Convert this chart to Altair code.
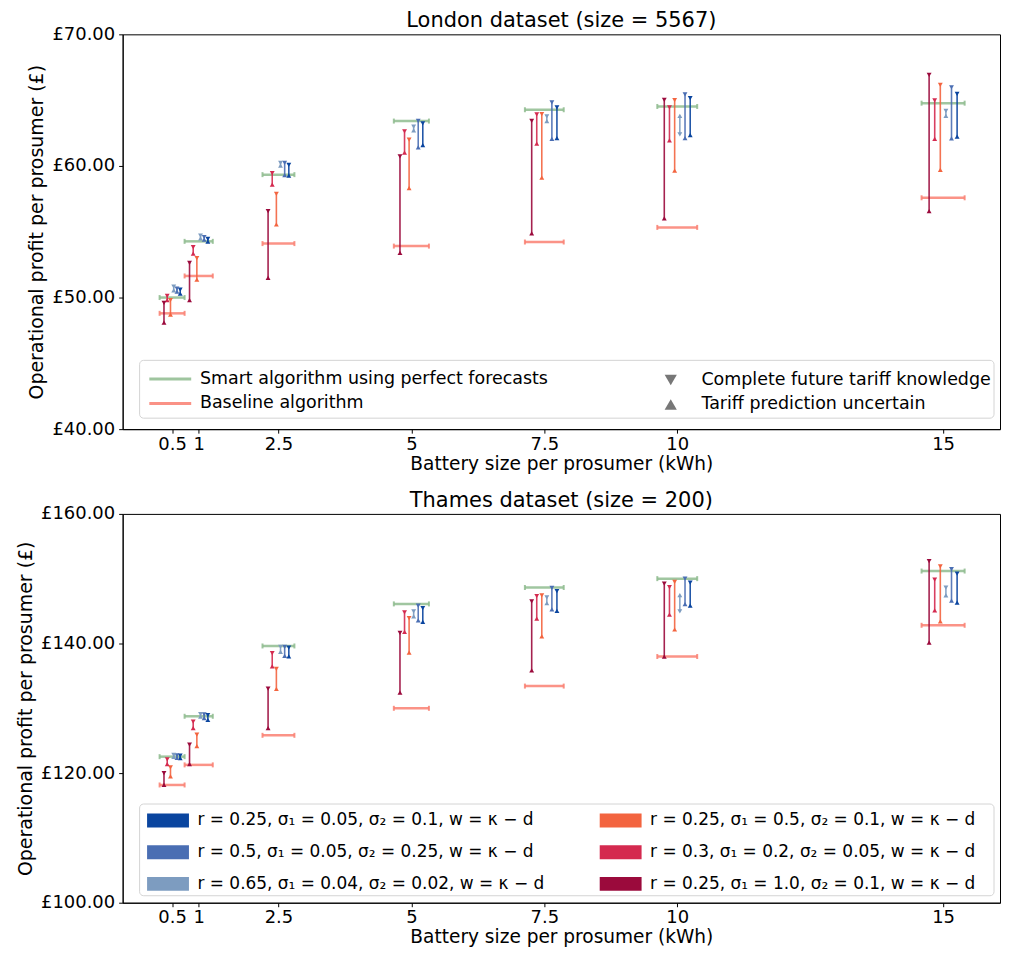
import altair as alt
import pandas as pd

# ---------------- data ----------------
batteries = [0.5, 1, 2.5, 5, 7.5, 10, 15]
tick_labels = ["0.5", "1", "2.5", "5", "7.5", "10", "15"]
half_width = [0.235, 0.265, 0.3, 0.33, 0.365, 0.375, 0.405]

series_names = ["Smart algorithm using perfect forecasts", "Baseline algorithm"]
series_colors = ["#8fbc8f", "#fa8072"]
marker_names = ["Complete future tariff knowledge", "Tariff prediction uncertain"]

# variants, left-to-right order within each battery group
variants = [
    "r = 0.25, σ₁ = 1.0, σ₂ = 0.1, w = κ − d",
    "r = 0.3, σ₁ = 0.2, σ₂ = 0.05, w = κ − d",
    "r = 0.25, σ₁ = 0.5, σ₂ = 0.1, w = κ − d",
    "r = 0.65, σ₁ = 0.04, σ₂ = 0.02, w = κ − d",
    "r = 0.5, σ₁ = 0.05, σ₂ = 0.25, w = κ − d",
    "r = 0.25, σ₁ = 0.05, σ₂ = 0.1, w = κ − d",
]
variant_colors = ["#9b0a3c", "#d42a4f", "#f3643f", "#7d9cc0", "#4a6eb3", "#0a459f"]

# London dataset
london_perfect = [50.0, 54.27, 59.34, 63.41, 64.27, 64.52, 64.77]
london_baseline = [48.8, 51.64, 54.1, 53.91, 54.22, 55.33, 57.58]
london_complete = [
    [49.6, 52.63, 56.57, 60.73, 63.43, 65.02, 66.92],
    [50.13, 53.84, 59.45, 62.63, 63.92, 64.45, 64.98],
    [49.8, 53.0, 57.88, 62.0, 63.94, 65.0, 66.16],
    [50.83, 54.7, 60.23, 62.98, 63.77, 62.4, 64.19],
    [50.68, 54.6, 60.23, 63.43, 64.83, 65.43, 65.98],
    [50.6, 54.45, 60.08, 63.23, 64.45, 65.15, 65.48],
]
london_uncertain = [
    [48.1, 49.8, 51.5, 53.39, 54.87, 56.01, 56.57],
    [49.8, 53.33, 58.58, 61.01, 61.69, 61.95, 62.05],
    [48.7, 51.36, 55.55, 58.31, 59.11, 59.64, 59.7],
    [50.55, 54.5, 60.02, 62.7, 63.41, 63.81, 63.81],
    [50.45, 54.4, 59.3, 61.41, 62.05, 62.12, 62.1],
    [50.3, 54.25, 59.27, 61.59, 62.12, 62.35, 62.22],
]

# Thames dataset
thames_perfect = [122.54, 128.77, 139.62, 146.11, 148.64, 150.01, 151.18]
thames_baseline = [118.17, 121.27, 125.83, 130.0, 133.43, 137.99, 142.81]
thames_complete = [
    [120.0, 124.41, 133.03, 141.64, 146.51, 149.25, 152.7],
    [122.13, 127.96, 138.51, 144.79, 147.33, 148.7, 149.86],
    [120.87, 125.93, 136.07, 143.93, 147.43, 149.51, 151.89],
    [122.8, 129.1, 139.5, 144.94, 147.12, 144.94, 148.64],
    [122.75, 129.05, 139.47, 145.86, 148.59, 150.01, 151.48],
    [122.7, 128.95, 139.36, 145.45, 148.09, 149.4, 150.77],
]
thames_uncertain = [
    [118.17, 121.37, 126.95, 132.42, 135.87, 137.99, 140.13],
    [121.37, 126.95, 136.47, 141.8, 143.83, 144.44, 145.1],
    [119.5, 124.15, 132.98, 138.6, 141.09, 142.16, 143.42],
    [122.5, 128.7, 138.7, 144.18, 146.21, 147.48, 147.42],
    [122.35, 128.5, 138.1, 143.57, 145.25, 146.06, 146.62],
    [122.3, 128.2, 138.0, 143.32, 145.05, 145.86, 146.31],
]

FONT = "DejaVu Sans"
X_DOMAIN = [-0.43, 16.07]
XTITLE = "Battery size per prosumer (kWh)"
YTITLE = "Operational profit per prosumer (£)"
W = 880
LEG_FS = 17.5


def panel(title, perfect, baseline, complete, uncertain, y_dom, y_ticks, top, height):
    xs = alt.Scale(domain=X_DOMAIN, nice=False, zero=False)
    ys = alt.Scale(domain=y_dom, nice=False, zero=False)
    label_map = "{" + ",".join(f"'{b}':'{t}'" for b, t in zip(batteries, tick_labels)) + "}"
    xaxis = alt.Axis(title=XTITLE, values=batteries, labelOverlap=False, labelFlush=False,
                     labelExpr=f"{label_map}[datum.value] || datum.label",
                     labelPadding=2, titlePadding=1, titleFontSize=18.6)
    yaxis = alt.Axis(title=YTITLE, values=y_ticks, labelExpr="'£' + format(datum.value, '.2f')",
                     labelPadding=4, titlePadding=5, titleFontSize=19)

    def X(f):
        return alt.X(f, type="quantitative", scale=xs, axis=xaxis)

    def Y(f):
        return alt.Y(f, type="quantitative", scale=ys, axis=yaxis)

    # horizontal reference bars
    rows = []
    for i, b in enumerate(batteries):
        hw = half_width[i]
        rows.append(dict(series=series_names[0], lo=b - hw, hi=b + hw, y=perfect[i]))
        rows.append(dict(series=series_names[1], lo=b - hw, hi=b + hw, y=baseline[i]))
    hb = pd.DataFrame(rows)
    caps = pd.concat([hb.assign(x=hb["lo"]), hb.assign(x=hb["hi"])])

    s_scale = alt.Scale(domain=series_names, range=series_colors)
    if top:
        s_legend = alt.Legend(title=None, orient="none", legendX=39, legendY=337,
                              symbolType="M-3,0H3", symbolSize=196, symbolStrokeWidth=3,
                              rowPadding=5.5, labelOffset=21, padding=0, labelFontSize=LEG_FS,
                              labelFont=FONT, labelColor="black", labelLimit=600)
    else:
        s_legend = None

    layers = []
    # legend frame
    frame_y = (327, 385) if top else (291, 383)
    layers.append(
        alt.Chart(pd.DataFrame({"k": [0]})).mark_rect(
            fill="white", stroke="#d0d0d0", strokeWidth=1, cornerRadius=4, opacity=0.9
        ).encode(x=alt.value(17), x2=alt.value(874), y=alt.value(frame_y[0]), y2=alt.value(frame_y[1]))
    )
    layers.append(
        alt.Chart(hb).mark_rule(strokeWidth=2.5, opacity=0.85).encode(
            x=X("lo"), x2="hi", y=Y("y"),
            color=alt.Color("series:N", scale=s_scale, legend=s_legend),
        )
    )
    layers.append(
        alt.Chart(caps).mark_point(shape="M0,-1L0,1", size=25, strokeWidth=2, opacity=0.85, filled=False).encode(
            x=X("x"), y=Y("y"),
            color=alt.Color("series:N", scale=s_scale, legend=None),
        )
    )

    # variant error bars
    groups = [("reds", [2, 1, 0]), ("blues", [5, 4, 3])]
    for gname, order in groups:
        vr, vp = [], []
        for j in order:
            for i, b in enumerate(batteries):
                x = b + (j - 2.5) * 0.26 * half_width[i]
                vr.append(dict(variant=variants[j], x=x, c=complete[j][i], u=uncertain[j][i]))
                vp.append(dict(variant=variants[j], x=x, y=complete[j][i], marker=marker_names[0]))
                vp.append(dict(variant=variants[j], x=x, y=uncertain[j][i], marker=marker_names[1]))
        v_scale = alt.Scale(domain=[variants[j] for j in order],
                            range=[variant_colors[j] for j in order])
        if top:
            v_legend = None
        else:
            v_legend = alt.Legend(title=None, orient="none",
                                  legendX=37 if gname == "blues" else 491, legendY=299,
                                  symbolType="M-3,-1H3V1H-3Z", symbolSize=196,
                                  symbolStrokeWidth=0, symbolOpacity=1,
                                  rowPadding=13.8, labelOffset=21, padding=0,
                                  labelFontSize=17, labelFont=FONT, labelColor="black",
                                  labelLimit=600)
        if top and gname == "blues":
            sh_legend = alt.Legend(title=None, orient="none", legendX=541, legendY=338,
                                   symbolSize=150, symbolFillColor="#777777",
                                   symbolStrokeColor="#777777", symbolStrokeWidth=0,
                                   rowPadding=5.5, labelOffset=22, padding=0,
                                   labelFontSize=LEG_FS, labelFont=FONT, labelColor="black",
                                   labelLimit=600)
        else:
            sh_legend = None
        layers.append(
            alt.Chart(pd.DataFrame(vr)).mark_rule(strokeWidth=1.6, opacity=0.9).encode(
                x=X("x"), y=Y("c"), y2="u",
                color=alt.Color("variant:N", scale=v_scale, legend=None),
            )
        )
        layers.append(
            alt.Chart(pd.DataFrame(vp)).mark_point(filled=True, size=24, opacity=1).encode(
                x=X("x"), y=Y("y"),
                color=alt.Color("variant:N", scale=v_scale, legend=v_legend),
                shape=alt.Shape("marker:N",
                                scale=alt.Scale(domain=marker_names, range=["triangle-down", "triangle-up"]),
                                legend=sh_legend),
            )
        )

    return alt.layer(*layers).resolve_scale(color="independent", shape="independent").properties(
        width=W, height=height,
        title=alt.TitleParams(title, fontSize=21, font=FONT, fontWeight="normal", color="black",
                              offset=0, dy=6),
    )


top = panel("London dataset (size = 5567)", london_perfect, london_baseline,
            london_complete, london_uncertain, [40, 70], [40, 50, 60, 70], True, 396)
bottom = panel("Thames dataset (size = 200)", thames_perfect, thames_baseline,
               thames_complete, thames_uncertain, [100, 160], [100, 120, 140, 160], False, 390)

chart = alt.vconcat(top, bottom, spacing=15).resolve_scale(
    color="independent", shape="independent"
).properties(
    padding={"left": 8, "top": 0, "right": 0, "bottom": 0}
).configure_view(
    stroke="black", strokeWidth=1
).configure_axis(
    grid=False, labelFont=FONT, titleFont=FONT, labelFontSize=18,
    titleFontWeight="normal", labelColor="black", titleColor="black",
    tickColor="black", domainColor="black", tickSize=4,
)

chart.save("out.html", embed_options={"renderer": "svg", "actions": False})
